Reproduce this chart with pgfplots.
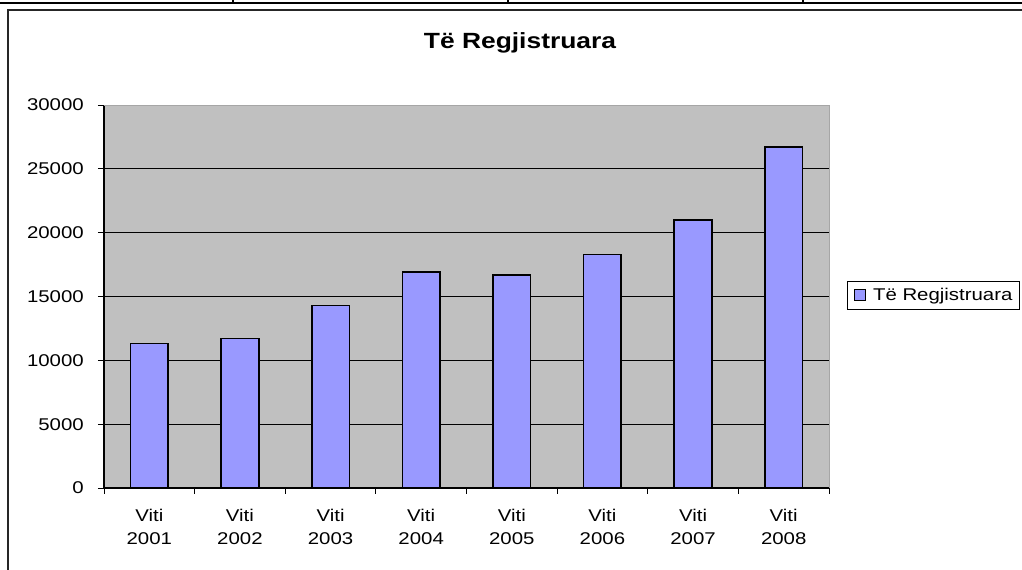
\documentclass[border=0pt]{standalone}
\usepackage{fontspec}
\setmainfont[FakeStretch=1.2]{Liberation Sans}
\usepackage{pgfplots}
\pgfplotsset{compat=1.18}
\definecolor{barblue}{HTML}{9999FF}
\definecolor{bggray}{HTML}{C0C0C0}
\begin{document}
\begin{tikzpicture}[x=0.75pt,y=0.75pt]
\useasboundingbox[fill=white] (0,0) rectangle (1022,570);
% top table line and ticks
\draw[line width=1.8pt] (0,567.2) -- (1022,567.2);
\foreach \xx in {233,508,803} {\draw[line width=1.2pt] (\xx,570) -- (\xx,567);}
% chart frame
\draw[line width=1.5pt, black!85] (8,-2) -- (8,559.5) -- (1024,559.5);
% title
\node[font={\fontsize{16.5}{19}\selectfont\bfseries}] at (520,527) {Të Regjistruara};
\begin{axis}[
  at={(78pt,61.5pt)}, anchor=south west,
  scale only axis, width=543.75pt, height=287.25pt,
  xmin=-0.5, xmax=7.5, ymin=0, ymax=30000,
  ytick={0,5000,10000,15000,20000,25000,30000},
  yticklabels={0,5000,10000,15000,20000,25000,30000},
  scaled ticks=false,
  axis background/.style={fill=bggray, draw=gray!70},
  axis x line*=bottom, axis y line*=left,
  axis line style={black, line width=0.8pt, -},
  tick align=outside, major tick length=4.5pt,
  tick style={black, line width=0.6pt},
  ymajorgrids, major grid style={black, line width=0.6pt},
  xtick={-0.5,0.5,...,7.5}, xticklabels={},
  extra x ticks={0,1,...,7},
  extra x tick labels={Viti\\2001,Viti\\2002,Viti\\2003,Viti\\2004,Viti\\2005,Viti\\2006,Viti\\2007,Viti\\2008},
  extra x tick style={major tick length=0pt, grid=none},
  xticklabel style={align=center, anchor=north, inner sep=0pt, yshift=-15.5pt, font={\fontsize{12.75}{17.25}\selectfont}},
  yticklabel style={anchor=east, inner sep=0pt, xshift=-10.5pt, font={\fontsize{12.75}{15}\selectfont}},
  legend style={at={(1.0248,0.5026)}, anchor=west, draw=black, line width=0.6pt,
    font={\fontsize{12.75}{15}\selectfont}, inner xsep=3pt, inner ysep=3pt, cells={anchor=west}},
  legend image code/.code={\draw[fill=barblue, draw=black, line width=0.5pt] (2.25pt,-3.5pt) rectangle (10.5pt,4.5pt); \path[draw=none, fill=none] (0pt,0pt) rectangle (14.25pt,0.1pt);},
]
\addplot[ybar, bar width=0.415, fill=barblue, draw=black, line width=1.2pt]
  coordinates {(0,11330) (1,11700) (2,14280) (3,16900) (4,16680) (5,18280) (6,20990) (7,26690)};
\addlegendentry{Të Regjistruara\hspace{4pt}}
\draw[gray!70, line width=0.6pt] (rel axis cs:0,1) -- (rel axis cs:1,1) -- (rel axis cs:1,0);
\end{axis}
\end{tikzpicture}
\end{document}
